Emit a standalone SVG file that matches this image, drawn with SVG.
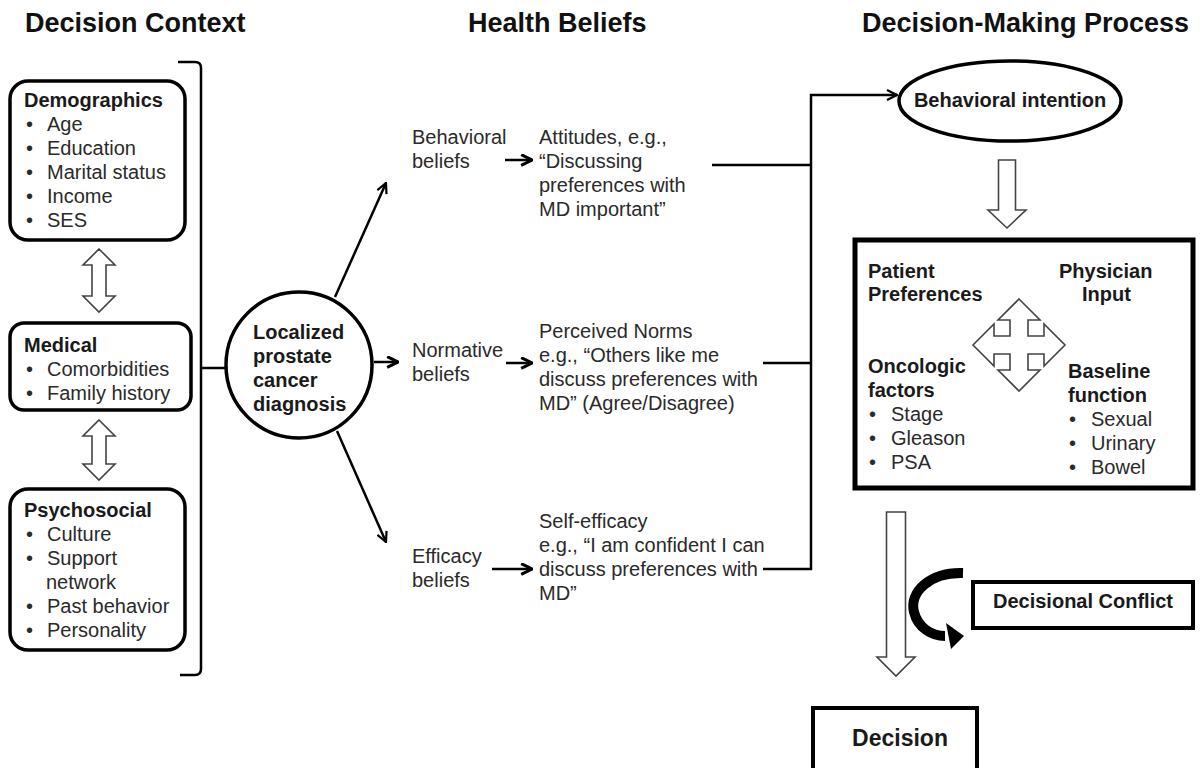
<svg xmlns="http://www.w3.org/2000/svg" width="1204" height="768" viewBox="0 0 1204 768">
<defs>
<style>
text{font-family:"Liberation Sans",Arial,sans-serif;fill:#2a2a2a;font-size:20px}
.t{font-weight:bold;font-size:27px;fill:#111}
.b{font-weight:bold;fill:#1a1a1a}
.box{fill:#fff;stroke:#000;stroke-width:3.5}
.ln{fill:none;stroke:#000;stroke-width:2.5}
.hol{fill:#fff;stroke:#444;stroke-width:1.6;stroke-linejoin:miter}
</style>
<marker id="ah" viewBox="0 0 12 12" refX="11" refY="6" markerWidth="12" markerHeight="12" markerUnits="userSpaceOnUse" orient="auto">
<path d="M1,1 L11,6 L1,11" fill="none" stroke="#000" stroke-width="2.2"/>
</marker>
<marker id="ahb" viewBox="0 0 12 12" refX="11" refY="6" markerWidth="13" markerHeight="13" markerUnits="userSpaceOnUse" orient="auto">
<path d="M1,1 L11,6 L1,11" fill="none" stroke="#000" stroke-width="2.8"/>
</marker>
</defs>

<g id="titles">
<text class="t" x="25" y="32">Decision Context</text>
<text class="t" x="468" y="32">Health Beliefs</text>
<text class="t" x="862" y="32">Decision-Making Process</text>
</g>

<g id="demographics">
<rect class="box" x="10" y="81" width="175" height="159" rx="18"/>
<text class="b" x="24" y="107">Demographics</text>
<text x="26" y="131">•</text><text x="47" y="131">Age</text>
<text x="26" y="155">•</text><text x="47" y="155">Education</text>
<text x="26" y="179">•</text><text x="47" y="179">Marital status</text>
<text x="26" y="203">•</text><text x="47" y="203">Income</text>
<text x="26" y="227">•</text><text x="47" y="227">SES</text>
</g>

<g id="medical">
<rect class="box" x="10" y="323" width="181" height="87" rx="14"/>
<text class="b" x="24" y="352">Medical</text>
<text x="26" y="376">•</text><text x="47" y="376">Comorbidities</text>
<text x="26" y="400">•</text><text x="47" y="400">Family history</text>
</g>

<g id="psychosocial">
<rect class="box" x="10" y="489" width="175" height="161" rx="18"/>
<text class="b" x="24" y="517">Psychosocial</text>
<text x="26" y="541">•</text><text x="47" y="541">Culture</text>
<text x="26" y="565">•</text><text x="47" y="565">Support</text>
<text x="46" y="589">network</text>
<text x="26" y="613">•</text><text x="47" y="613">Past behavior</text>
<text x="26" y="637">•</text><text x="47" y="637">Personality</text>
</g>

<g id="dbl-arrow-1">
<path class="hol" d="M99,249 L115,265 L106,265 L106,296 L115,296 L99,312 L83,296 L92,296 L92,265 L83,265 Z"/>
</g>
<g id="dbl-arrow-2">
<path class="hol" d="M99,420 L115,436 L106,436 L106,464 L115,464 L99,480 L83,464 L92,464 L92,436 L83,436 Z"/>
</g>

<g id="diagnosis">
<circle cx="299" cy="365" r="73" fill="#fff" stroke="#000" stroke-width="3.5"/>
<text class="b" x="253" y="339">Localized</text>
<text class="b" x="253" y="363">prostate</text>
<text class="b" x="253" y="387">cancer</text>
<text class="b" x="253" y="411">diagnosis</text>
</g>

<g id="behavioral-beliefs">
<text x="412" y="144">Behavioral</text>
<text x="412" y="168">beliefs</text>
<text x="539" y="144">Attitudes, e.g.,</text>
<text x="539" y="168">“Discussing</text>
<text x="539" y="192">preferences with</text>
<text x="539" y="216">MD important”</text>
</g>

<g id="normative-beliefs">
<text x="412" y="357">Normative</text>
<text x="412" y="381">beliefs</text>
<text x="539" y="338">Perceived Norms</text>
<text x="539" y="362">e.g., “Others like me</text>
<text x="539" y="386">discuss preferences with</text>
<text x="539" y="410">MD” (Agree/Disagree)</text>
</g>

<g id="efficacy-beliefs">
<text x="412" y="563">Efficacy</text>
<text x="412" y="587">beliefs</text>
<text x="539" y="528">Self-efficacy</text>
<text x="539" y="552">e.g., “I am confident I can</text>
<text x="539" y="576">discuss preferences with</text>
<text x="539" y="600">MD”</text>
</g>

<g id="behavioral-intention">
<ellipse cx="1010" cy="101" rx="111" ry="40" fill="#fff" stroke="#000" stroke-width="3.5"/>
<text class="b" x="1010" y="107" text-anchor="middle">Behavioral intention</text>
</g>

<g id="down-arrow-1">
<path class="hol" d="M998.5,160 L1015.5,160 L1015.5,210 L1026,210 L1007,228 L988,210 L998.5,210 Z"/>
</g>

<g id="factors-box">
<rect x="855" y="240" width="338" height="248" fill="#fff" stroke="#000" stroke-width="5"/>
<text class="b" x="868" y="278">Patient</text>
<text class="b" x="868" y="301">Preferences</text>
<text class="b" x="1059" y="278">Physician</text>
<text class="b" x="1082" y="301">Input</text>
<text class="b" x="868" y="373">Oncologic</text>
<text class="b" x="868" y="397">factors</text>
<text x="869" y="421">•</text><text x="891" y="421">Stage</text>
<text x="869" y="445">•</text><text x="891" y="445">Gleason</text>
<text x="869" y="469">•</text><text x="891" y="469">PSA</text>
<text class="b" x="1068" y="378">Baseline</text>
<text class="b" x="1068" y="402">function</text>
<text x="1069" y="426">•</text><text x="1091" y="426">Sexual</text>
<text x="1069" y="450">•</text><text x="1091" y="450">Urinary</text>
<text x="1069" y="474">•</text><text x="1091" y="474">Bowel</text>
<path class="hol" d="M1019,299 L1040,320 L1028,320 L1028,336 L1044,336 L1044,324 L1065,345 L1044,366 L1044,354 L1028,354 L1028,370 L1040,370 L1019,391 L998,370 L1010,370 L1010,354 L994,354 L994,366 L973,345 L994,324 L994,336 L1010,336 L1010,320 L998,320 Z"/>
</g>

<g id="down-arrow-2">
<path class="hol" d="M886.5,512 L905.5,512 L905.5,657 L915,657 L896,676 L877,657 L886.5,657 Z"/>
</g>

<g id="decisional-conflict">
<rect x="973" y="582" width="220" height="46" fill="#fff" stroke="#000" stroke-width="4"/>
<text class="b" x="1083" y="608" text-anchor="middle">Decisional Conflict</text>
<path d="M963,573 C930,572 909,592 914,612 C918,628 932,636 945,636" fill="none" stroke="#000" stroke-width="10"/>
<path d="M946,623 L964,636 L951,649 Z" fill="#000"/>
</g>

<g id="decision">
<rect x="813" y="708" width="164" height="62" fill="#fff" stroke="#000" stroke-width="4"/>
<text class="b" x="900" y="746" text-anchor="middle" style="font-size:23px">Decision</text>
</g>

<g id="connectors">
<path class="ln" d="M178,62 L195,62 Q201,62 201,68 L201,669 Q201,675 195,675 L180,675" stroke-width="3"/>
<path class="ln" d="M201,368 L226,368" stroke-width="3"/>
<path class="ln" d="M335,297 L386,183" marker-end="url(#ah)"/>
<path class="ln" d="M337,431 L386,542" marker-end="url(#ah)"/>
<path class="ln" d="M374,362 L398,362" stroke-width="3" marker-end="url(#ahb)"/>
<path class="ln" d="M505,160 L532,160" stroke-width="3" marker-end="url(#ahb)"/>
<path class="ln" d="M506,363 L532,363" stroke-width="3" marker-end="url(#ahb)"/>
<path class="ln" d="M492,569 L532,569" stroke-width="3" marker-end="url(#ahb)"/>
<path class="ln" d="M712,165 L811,165"/>
<path class="ln" d="M763,363 L811,363"/>
<path class="ln" d="M763,569 L811,569 L811,95 L897,95" marker-end="url(#ah)"/>
</g>
</svg>
